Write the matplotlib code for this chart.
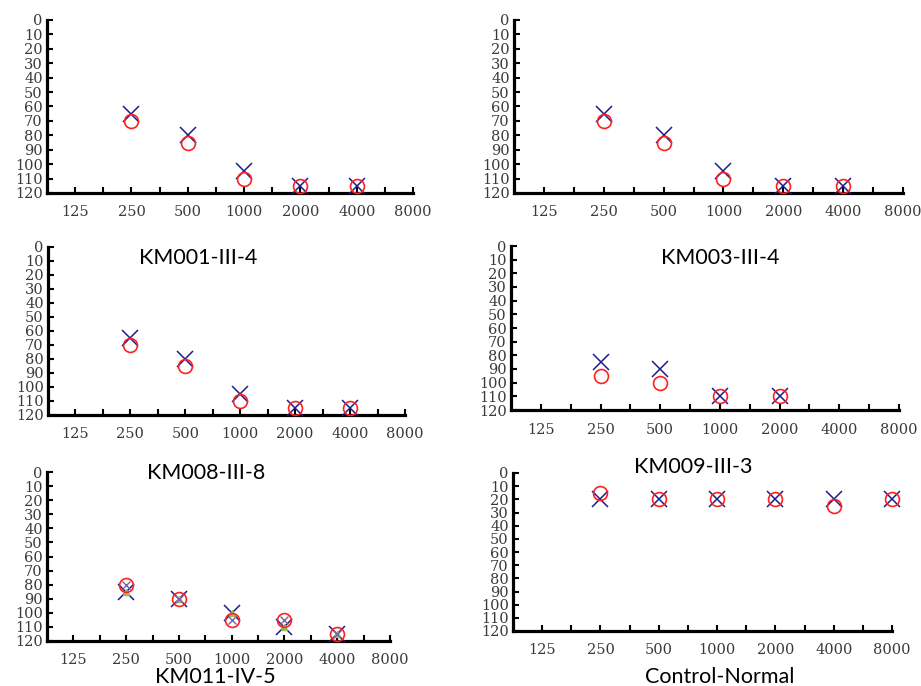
import numpy as np
import matplotlib
matplotlib.use("Agg")
import matplotlib.pyplot as plt

freqs = ["125", "250", "500", "1000", "2000", "4000", "8000"]
yticks = list(range(0, 121, 10))

# x positions are category indices into freqs
km001_x = [1, 2, 3, 4, 5]
km001_cross = [65, 80, 105, 115, 115]
km001_circle = [70, 85, 110, 115, 115]

km002_x = [1, 2, 3, 4, 5]
km002_cross = [65, 80, 105, 115, 115]
km002_circle = [70, 85, 110, 115, 115]

km003_x = [1, 2, 3, 4, 5]
km003_cross = [65, 80, 105, 115, 115]
km003_circle = [70, 85, 110, 115, 115]

km008_x = [1, 2, 3, 4]
km008_cross = [85, 90, 110, 110]
km008_circle = [95, 100, 110, 110]

km011_x = [1, 2, 3, 4, 5]
km011_cross = [85, 90, 100, 110, 115]
km011_circle = [80, 90, 105, 105, 115]
km011_tri = [85, 90, 100, 110, 115]
km011_small_x = [80, 90, 105, 105, 115]

ctrl_x = [1, 2, 3, 4, 5, 6]
ctrl_cross = [20, 20, 20, 20, 20, 20]
ctrl_circle = [15, 20, 20, 20, 25, 20]

W, H = 921, 686
# panel boxes in pixels: left, right, top, bottom
boxes = [
    (47, 413, 20, 193),
    (514, 903, 20, 193),
    (48, 405, 247, 415),
    (511, 899, 246, 410),
    (47, 390, 472, 641),
    (513, 892, 473, 631),
]
panels = [
    (km001_x, km001_cross, km001_circle),
    (km002_x, km002_cross, km002_circle),
    (km003_x, km003_cross, km003_circle),
    (km008_x, km008_cross, km008_circle),
    (km011_x, km011_cross, km011_circle),
    (ctrl_x, ctrl_cross, ctrl_circle),
]

labels = [
    ("KM001-III-4", 198, 258),
    ("KM003-III-4", 720, 258),
    ("KM008-III-8", 206, 473),
    ("KM009-III-3", 693, 467),
    ("KM011-IV-5", 215, 677),
    ("Control-Normal", 720, 677),
]

blue = "#1c1c8a"
red = "#ff2020"
tick_color = "#3a3a3a"

fig = plt.figure(figsize=(W / 100, H / 100), dpi=100)

for i, ((l, r, t, b), (xs, cross, circ)) in enumerate(zip(boxes, panels)):
    ax = fig.add_axes([l / W, 1 - b / H, (r - l) / W, (b - t) / H])
    ax.plot(xs, cross, linestyle="none", marker="x", ms=12, mew=1.1,
            color=blue, clip_on=False, zorder=3)
    ax.plot(xs, circ, linestyle="none", marker="o", ms=10, mew=1.2,
            mfc="none", mec=red, clip_on=False, zorder=4)
    if i == 4:
        ax.plot(xs, km011_tri, linestyle="none", marker="^", ms=4,
                color="#9bbb59", clip_on=False, zorder=3.5)
        ax.plot(xs, km011_small_x, linestyle="none", marker="x", ms=6,
                mew=1.0, color="#8064a2", clip_on=False, zorder=5)

    ax.set_xlim(-0.5, 6)
    ax.set_ylim(120, 0)
    ax.set_xticks(range(len(freqs)))
    ax.set_xticklabels(freqs)
    ax.set_xticks(np.arange(0.5, 6, 1.0), minor=True)
    ax.set_yticks(yticks)
    ax.set_yticklabels([str(v) for v in yticks])

    for s in ("top", "right"):
        ax.spines[s].set_visible(False)
    for s in ("left", "bottom"):
        ax.spines[s].set_linewidth(2.3)
        ax.spines[s].set_color("black")

    ax.tick_params(axis="x", which="both", direction="in", length=4,
                   width=1.5, color="black")
    ax.tick_params(axis="x", which="major", pad=9, labelsize=10.5,
                   labelcolor=tick_color)
    ax.tick_params(axis="y", direction="in", length=4, width=1.5,
                   color="black", pad=3, labelsize=10.5, labelcolor=tick_color)
    for lab in ax.get_xticklabels() + ax.get_yticklabels():
        lab.set_fontfamily("DejaVu Serif")
    ax.patch.set_visible(False)

for text, x, y in labels:
    fig.text(x / W, 1 - y / H, text, ha="center", va="center",
             fontsize=15.5, family="Lato", color="black")

fig.savefig("out.png", dpi=100)
